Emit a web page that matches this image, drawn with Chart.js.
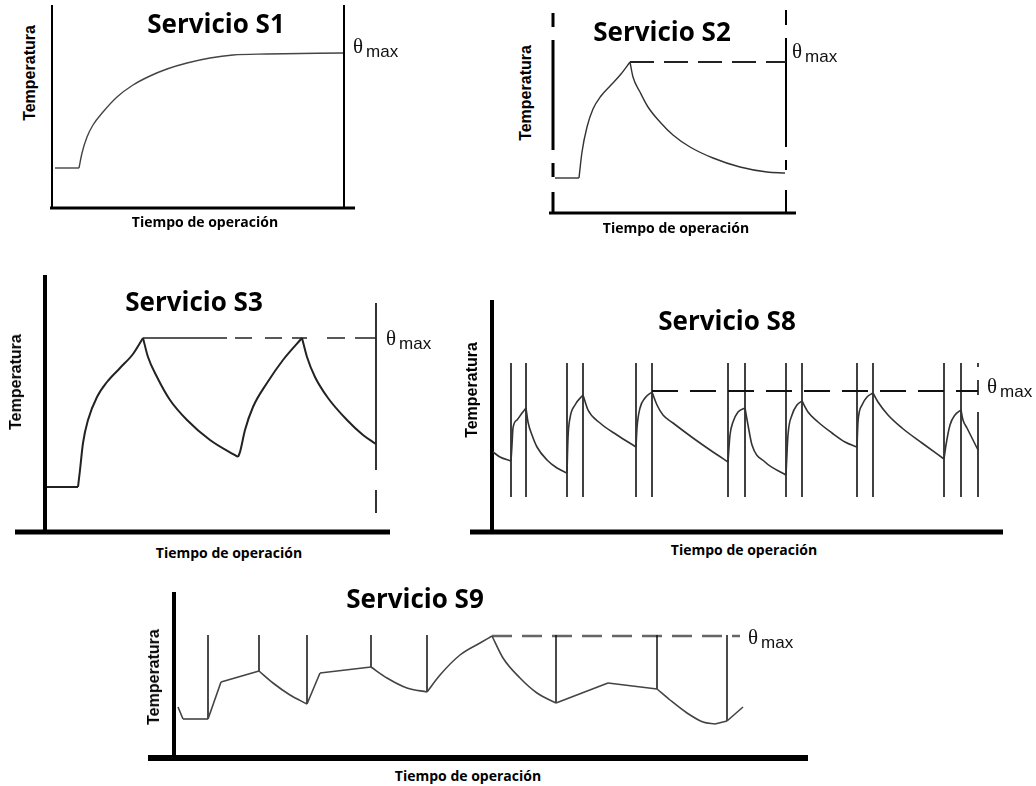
<!DOCTYPE html>
<html>
<head>
<meta charset="utf-8">
<script src="https://cdn.jsdelivr.net/npm/chart.js@4.4.1/dist/chart.umd.min.js"></script>
<style>
  body { margin: 0; background: #fff; }
  #page { position: relative; width: 1036px; height: 786px; overflow: hidden; background: #fff; }
  canvas { position: absolute; }
  .title { position: absolute; font: bold 26px "Open Sans", sans-serif; line-height: 1; transform: translate(-50%, -50%); white-space: nowrap; color: #000; }
  .xl { position: absolute; font: bold 14px "Open Sans", sans-serif; line-height: 1; transform: translate(-50%, -50%); white-space: nowrap; color: #000; }
  .yl { position: absolute; font: bold 16px "Liberation Sans", Arial, sans-serif; line-height: 1; transform: translate(-50%, -50%) rotate(-90deg); white-space: nowrap; color: #000; }
  .th { position: absolute; font: 21px "Liberation Serif", serif; line-height: 1; white-space: nowrap; color: #111; }
  .th .m { font: 17px "Liberation Sans", Arial, sans-serif; position: relative; top: 4px; margin-left: 3px; }
</style>
</head>
<body>
<div id="page">
  <canvas id="c1"></canvas>
  <canvas id="c2"></canvas>
  <canvas id="c3"></canvas>
  <canvas id="c8"></canvas>
  <canvas id="c9"></canvas>

  <div class="title" style="left:216px;top:23px">Servicio S1</div>
  <div class="title" style="left:662px;top:31px">Servicio S2</div>
  <div class="title" style="left:194px;top:301px">Servicio S3</div>
  <div class="title" style="left:727px;top:320px">Servicio S8</div>
  <div class="title" style="left:415px;top:598px">Servicio S9</div>

  <div class="xl" style="left:205px;top:222px">Tiempo de operación</div>
  <div class="xl" style="left:676px;top:228px">Tiempo de operación</div>
  <div class="xl" style="left:229px;top:553px">Tiempo de operación</div>
  <div class="xl" style="left:744px;top:550px">Tiempo de operación</div>
  <div class="xl" style="left:468px;top:776px">Tiempo de operación</div>

  <div class="yl" style="left:30px;top:73px">Temperatura</div>
  <div class="yl" style="left:526px;top:93px">Temperatura</div>
  <div class="yl" style="left:16px;top:382px">Temperatura</div>
  <div class="yl" style="left:472px;top:390px">Temperatura</div>
  <div class="yl" style="left:154px;top:677px">Temperatura</div>

  <div class="th" style="left:353px;top:36px">θ<span class="m">max</span></div>
  <div class="th" style="left:792px;top:41px">θ<span class="m">max</span></div>
  <div class="th" style="left:386px;top:328px">θ<span class="m">max</span></div>
  <div class="th" style="left:987px;top:376px">θ<span class="m">max</span></div>
  <div class="th" style="left:748px;top:627px">θ<span class="m">max</span></div>
</div>

<script>
// valores: [tiempo, temperatura]

// S1 - servicio continuo
const s1Curve = [[3,40],[27,40],[30,55],[35,71],[41,83],[51,96],[65,111],[81,123],[98,132],[115,139],[135,145],[158,150],[181,153],[215,154],[291,155]];
const s1End = 292;

// S2 - servicio de corta duracion
const s2Curve = [[2,35],[26,35],[29,61],[34,86],[40,104],[48,117],[58,128],[68,139],[77,151],[80,136],[87,121],[95,106],[107,91],[120,78],[137,66],[160,55],[187,46],[214,41],[232,40]];
const s2Peak = 77;
const s2ThetaMax = 151;
const s2End = 233;

// S3 - servicio intermitente periodico
const s3Curve = [[2,45],[33,45],[35,62],[38,89],[43,112],[52,135],[62,150],[75,164],[88,178],[98,194],[103,175],[112,155],[125,132],[142,112],[165,92],[193,75],[195,80],[200,102],[208,125],[222,149],[238,172],[257,194],[262,175],[270,155],[283,134],[302,112],[318,97],[331,88]];
const s3Peak = 98;
const s3ThetaMax = 194;
const s3End = 331;

// S8 - servicio ininterrumpido con cambios de carga y velocidad
const s8Curve = [[1,80],[8,75],[19,71],[20,87],[21,104],[25,112],[30,119],[34,124],[36,110],[40,97],[45,85],[55,72],[65,64],[75,59],[76,94],[78,114],[83,127],[91,137],[96,122],[108,109],[125,97],[144,85],[145,104],[148,124],[153,134],[160,140],[165,127],[171,117],[181,109],[201,94],[221,80],[236,70],[238,97],[241,110],[246,120],[253,124],[256,107],[260,87],[273,70],[294,57],[296,97],[300,117],[305,127],[310,131],[316,120],[326,110],[340,99],[353,90],[365,85],[366,110],[370,127],[375,135],[381,139],[386,130],[396,117],[410,104],[430,89],[452,73],[454,87],[458,107],[463,117],[469,122],[471,112],[475,104],[480,94],[486,82]];
const s8Switch = [19,34,75,91,144,160,236,253,294,310,365,381,452,469,486];
const s8SwitchRange = [35, 169];
const s8Peak = 160;
const s8ThetaMax = 141;

// S9 - servicio con variaciones no periodicas
const s9Curve = [[4,51],[9,39],[34,39],[47,76],[85,87],[99,75],[116,63],[133,54],[146,85],[197,91],[213,80],[233,70],[253,66],[266,83],[286,103],[306,115],[318,122],[329,100],[346,80],[363,65],[382,55],[434,75],[483,69],[496,58],[513,45],[529,36],[541,34],[553,37],[569,51]];
const s9Switch = [34,85,133,197,253,382,483,553];
const s9Corners = [47,146,434];
const s9SwitchTop = 123;
const s9Peak = 318;
const s9ThetaMax = 122;
const s9End = 566;

const framePlugin = {
  id: 'frame',
  beforeDatasetsDraw(chart, args, opts) {
    const { ctx, scales: { x, y } } = chart;
    (opts.lines || []).forEach(l => {
      ctx.save();
      ctx.strokeStyle = l.color || '#000';
      ctx.lineWidth = l.width || 2;
      ctx.setLineDash(l.dash || []);
      ctx.beginPath();
      ctx.moveTo(x.getPixelForValue(l.from[0]), y.getPixelForValue(l.from[1]));
      ctx.lineTo(x.getPixelForValue(l.to[0]), y.getPixelForValue(l.to[1]));
      ctx.stroke();
      ctx.restore();
    });
  }
};

// corta la curva en tramos monotonos para que los picos queden en punta
function runs(pts, breaks) {
  const out = [];
  let cur = [pts[0]];
  let dir = null;
  for (let i = 1; i < pts.length; i++) {
    const d = Math.sign(pts[i][1] - pts[i - 1][1]);
    const brk = breaks.includes(pts[i - 1][0]);
    if (cur.length > 1 && (d !== dir || brk)) {
      out.push(cur);
      cur = [pts[i - 1]];
    }
    cur.push(pts[i]);
    dir = d;
  }
  out.push(cur);
  return out;
}

function lineSet(points, opt) {
  return Object.assign({
    data: points.map(p => ({ x: p[0], y: p[1] })),
    borderColor: '#333',
    borderWidth: 1.6,
    pointRadius: 0,
    fill: false,
    tension: 0,
    clip: 10
  }, opt);
}

function curveSets(points, breaks, opt) {
  return runs(points, breaks).map(r => lineSet(r, Object.assign({ cubicInterpolationMode: 'monotone' }, opt)));
}

function yAt(curve, t) {
  const p = curve.find(q => q[0] === t);
  return p ? p[1] : 0;
}

function panel(id, origin, xr, yr, datasets, lines) {
  const pad = 8;
  const cv = document.getElementById(id);
  const w = xr[1] - xr[0] + 2 * pad;
  const h = yr[1] - yr[0] + 2 * pad;
  cv.width = w;
  cv.height = h;
  cv.style.width = w + 'px';
  cv.style.height = h + 'px';
  cv.style.left = (origin[0] + xr[0] - pad) + 'px';
  cv.style.top = (origin[1] - yr[1] - pad) + 'px';
  return new Chart(cv, {
    type: 'line',
    data: { datasets },
    options: {
      responsive: false,
      animation: false,
      events: [],
      layout: { padding: pad },
      plugins: { legend: { display: false }, tooltip: { enabled: false }, frame: { lines } },
      scales: {
        x: { type: 'linear', min: xr[0], max: xr[1], display: false },
        y: { type: 'linear', min: yr[0], max: yr[1], display: false }
      }
    },
    plugins: [framePlugin]
  });
}

// S1
panel('c1', [52, 208], [-2, 303], [0, 203],
  curveSets(s1Curve, [], { borderColor: '#444', borderWidth: 1.4 }),
  [
    { from: [-2, 0], to: [303, 0], width: 3 },
    { from: [0, 0], to: [0, 203], width: 2 },
    { from: [s1End, 0], to: [s1End, 203], width: 2 }
  ]);

// S2
panel('c2', [553, 213], [-4, 243], [0, 203],
  curveSets(s2Curve, [], { borderColor: '#333', borderWidth: 1.4 }).concat([
    lineSet([[s2Peak, s2ThetaMax], [s2End, s2ThetaMax]], { borderColor: '#222', borderWidth: 1.8, borderDash: [24, 10] })
  ]),
  [
    { from: [-4, 0], to: [243, 0], width: 3 },
    { from: [0, 0], to: [0, 203], width: 3, dash: [21, 15, 14, 13, 110, 13, 14, 10] },
    { from: [s2End, 0], to: [s2End, 203], width: 2, dash: [23, 20, 10, 13, 109, 13, 15] }
  ]);

// S3
panel('c3', [45, 532], [-30, 345], [0, 257],
  curveSets(s3Curve, [], { borderColor: '#222', borderWidth: 2 }).concat([
    lineSet([[s3Peak, s3ThetaMax], [s3End, s3ThetaMax]], { borderColor: '#222', borderWidth: 1.5, borderDash: [84, 8, 17, 13, 17, 10, 15, 20, 18, 10, 25] })
  ]),
  [
    { from: [-30, 0], to: [345, 0], width: 5 },
    { from: [0, 0], to: [0, 257], width: 4 },
    { from: [s3End, 19], to: [s3End, 229], width: 1.6, dash: [23, 20, 220] }
  ]);

// S8
const s8Lines = s8Switch.map((t, i) => lineSet([[t, s8SwitchRange[0]], [t, s8SwitchRange[1]]], {
  borderColor: '#111', borderWidth: 1.6,
  borderDash: i === s8Switch.length - 1 ? [85, 17, 15, 13, 4] : []
}));
panel('c8', [492, 532], [-22, 511], [0, 232],
  curveSets(s8Curve, [], { borderColor: '#333', borderWidth: 1.6 }).concat(s8Lines, [
    lineSet([[s8Peak, s8ThetaMax], [s8Switch[s8Switch.length - 1], s8ThetaMax]], { borderColor: '#111', borderWidth: 2, borderDash: [26, 12] })
  ]),
  [
    { from: [-22, 0], to: [511, 0], width: 5 },
    { from: [0, 0], to: [0, 232], width: 4 }
  ]);

// S9
const s9Lines = s9Switch.map(t => lineSet([[t, s9SwitchTop], [t, yAt(s9Curve, t)]], { borderColor: '#111', borderWidth: 1.5 }));
panel('c9', [174, 758], [-26, 634], [0, 166],
  curveSets(s9Curve, s9Switch.concat(s9Corners), { borderColor: '#444', borderWidth: 1.6 }).concat(s9Lines, [
    lineSet([[s9Peak, s9ThetaMax], [s9End, s9ThetaMax]], { borderColor: '#666', borderWidth: 2.5, borderDash: [20, 10] })
  ]),
  [
    { from: [-26, 0], to: [634, 0], width: 6 },
    { from: [0, 0], to: [0, 166], width: 4 }
  ]);
</script>
</body>
</html>
